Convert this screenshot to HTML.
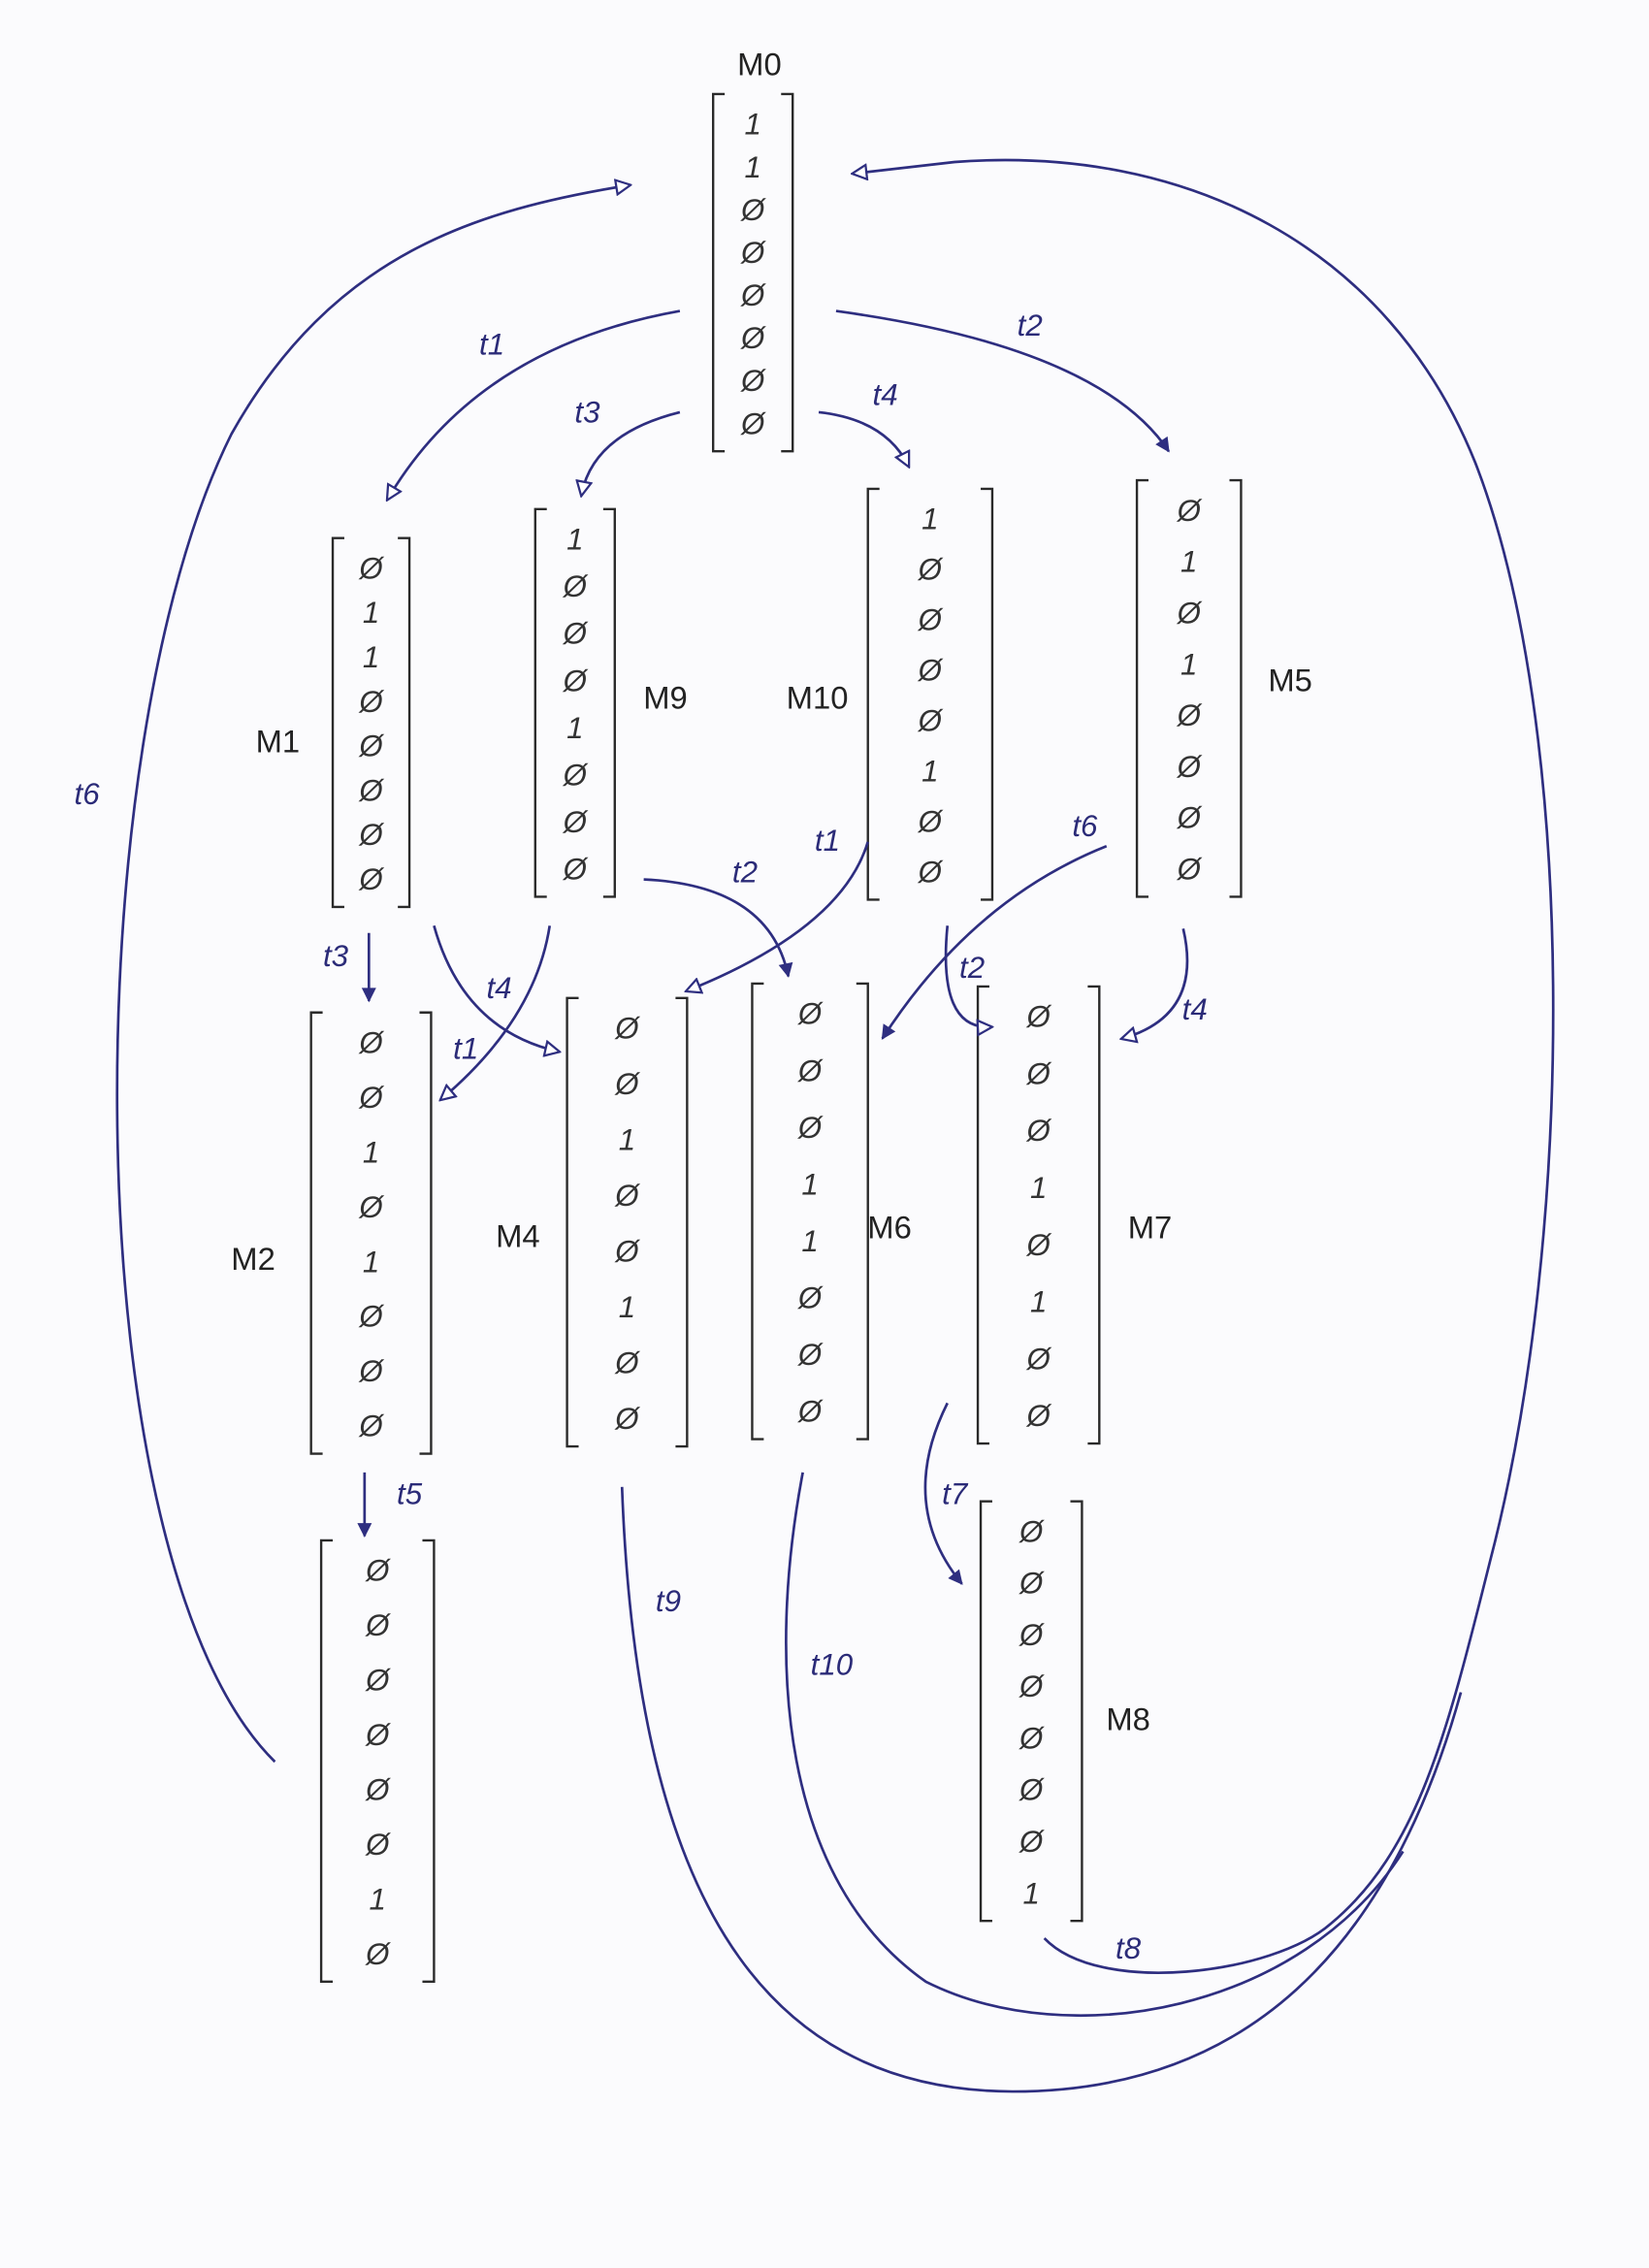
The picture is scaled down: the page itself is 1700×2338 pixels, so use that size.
<!DOCTYPE html>
<html><head><meta charset="utf-8"><style>
html,body{margin:0;padding:0;background:#fbfbfd;}
svg{display:block}
.num{font-family:"Liberation Sans",sans-serif;font-size:21px;fill:#333;text-anchor:middle;font-style:italic}
.lab{font-family:"Liberation Sans",sans-serif;font-size:22px;fill:#222;text-anchor:middle}
.tl{font-family:"Liberation Sans",sans-serif;font-size:21px;fill:#2b2b78;text-anchor:middle;font-style:italic}
.br{stroke:#2a2a2a;stroke-width:1.6;fill:none}
.ar{stroke:#2e2e80;stroke-width:1.8;fill:none}
</style></head><body>
<svg id="g" width="1700" height="2338" viewBox="0 0 1140 1568" xmlns="http://www.w3.org/2000/svg">
<defs>
<marker id="ho" markerWidth="12" markerHeight="12" refX="10" refY="6" orient="auto" markerUnits="userSpaceOnUse"><path d="M1,1 L11,6 L1,11 Z" fill="#fff" stroke="#2e2e80" stroke-width="1.5"/></marker>
<marker id="hf" markerWidth="12" markerHeight="12" refX="10" refY="6" orient="auto" markerUnits="userSpaceOnUse"><path d="M1,1 L11,6 L1,11 Z" fill="#2e2e80"/></marker>
</defs>
</svg>
<script>
const markingNames=["M0","M1","M9","M10","M5","M2","M4","M6","M7","M3","M8"];
const markingValues=[
[1,1,0,0,0,0,0,0],[0,1,1,0,0,0,0,0],[1,0,0,0,1,0,0,0],[1,0,0,0,0,1,0,0],[0,1,0,1,0,0,0,0],
[0,0,1,0,1,0,0,0],[0,0,1,0,0,1,0,0],[0,0,0,1,1,0,0,0],[0,0,0,1,0,1,0,0],[0,0,0,0,0,0,1,0],[0,0,0,0,0,0,0,1]];
const boxes=[[493,548,65,312],[230,283,372,627],[370,425,352,620],[600,686,338,622],[786,858,332,620],[215,298,700,1005],[392,475,690,1000],[520,600,680,995],[676,760,682,998],[222,300,1065,1370],[678,748,1038,1328]];
const labelPos=[[525,52],[192,520],[460,490],[565,490],[892,478],[175,878],[358,862],[615,856],[795,856],null,[780,1196]];
const NS="http://www.w3.org/2000/svg";
const g=document.getElementById('g');
function mk(t,a){const e=document.createElementNS(NS,t);for(const k in a)e.setAttribute(k,a[k]);g.appendChild(e);return e;}
markingValues.forEach((vals,i)=>{
 const [x0,x1,y0,y1]=boxes[i];
 const b=mk('path',{class:'br',d:`M${x0+8},${y0} L${x0},${y0} L${x0},${y1} L${x0+8},${y1} M${x1-8},${y0} L${x1},${y0} L${x1},${y1} L${x1-8},${y1}`});
 
 
 const step=(y1-y0-40)/7;
 vals.forEach((v,j)=>{
  const t=mk('text',{class:'num',x:(x0+x1)/2,y:y0+28+j*step});
  t.textContent=v?'1':'Ø';
  
  
 });
 if(labelPos[i]){const l=mk('text',{class:'lab',x:labelPos[i][0],y:labelPos[i][1]});l.textContent=markingNames[i];
  
  }
});
const arcs=[
["t1","M470,215 Q330,240 268,345",340,245,"ho"],
["t2","M578,215 Q760,240 808,312",712,232,"hf"],
["t3","M470,285 Q410,300 402,342",406,292,"ho"],
["t4","M566,285 Q612,290 628,322",612,280,"ho"],
["t6","M190,1218 C50,1080 50,520 160,300 C230,175 330,145 435,128",60,556,"ho"],
["t3","M255,645 L255,692",232,668,"hf"],
["t4","M300,640 Q320,712 386,727",345,690,"ho"],
["t1","M380,640 Q370,705 305,760",322,732,"ho"],
["t2","M445,608 Q532,612 545,675",515,610,"hf"],
["t1","M600,582 Q582,642 475,685",572,588,"ho"],
["t6","M765,585 Q672,622 610,718",750,578,"hf"],
["t2","M655,640 Q648,712 685,710",672,676,"ho"],
["t4","M818,642 Q832,702 776,718",826,705,"ho"],
["t5","M252,1018 L252,1062",283,1040,"hf"],
["t7","M655,970 Q620,1040 665,1095",660,1040,"hf"],
["t9","M430,1028 C440,1300 520,1445 700,1446 C860,1446 960,1350 1010,1170",462,1114,null],
["t10","M555,1018 C530,1150 540,1300 640,1370 C740,1420 900,1390 970,1280",575,1158,null],
["t8","M722,1340 C760,1380 880,1365 920,1330 C980,1280 1000,1200 1030,1080 C1090,850 1090,500 1020,320 C960,170 820,100 660,112 L590,120",780,1354,"ho"]
];
arcs.forEach((a,i)=>{
 const p=mk('path',{class:'ar',d:a[1]});
 if(a[4])p.setAttribute('marker-end','url(#'+a[4]+')');
 
 
 const t=mk('text',{class:'tl',x:a[2],y:a[3]});t.textContent=a[0];
 
 
});
</script>
</body></html>
